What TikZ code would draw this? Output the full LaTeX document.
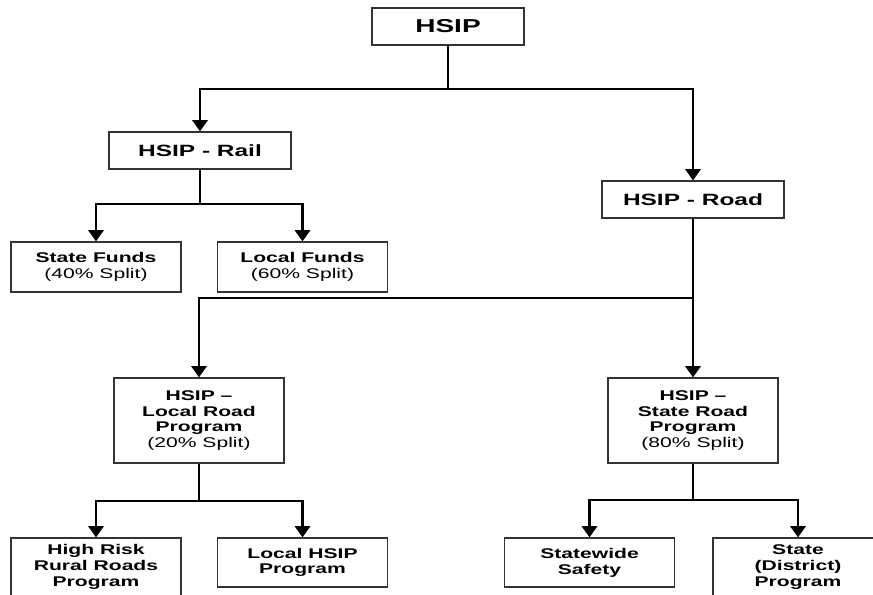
\documentclass[tikz,border=0pt]{standalone}
\usepackage{fontspec}
\setmainfont{Liberation Sans}[FakeStretch=1.5]
\usepackage{tikz}
\usetikzlibrary{arrows.meta}

\begin{document}
\begin{tikzpicture}[
  x=0.025cm, y=-0.025cm,
  box/.style={draw=black!80, line width=0.9pt, minimum width=4.25cm, align=center,
              inner sep=2pt, font=\fontsize{10}{11.2}\selectfont},
  topbox/.style={box, minimum width=3.8cm, minimum height=0.925cm,
              font=\fontsize{13.3}{15}\selectfont\bfseries},
  midbox/.style={box, minimum width=4.55cm, minimum height=0.925cm,
              font=\fontsize{11.6}{13}\selectfont\bfseries},
  prog/.style={box, font=\fontsize{10}{11.2}\selectfont\bfseries},
  arr/.style={-{Triangle[width=3.8mm,length=2.8mm]}, line width=1.8pt},
  link/.style={line width=1.8pt}
]
  \clip (0,0) rectangle (873,594);

  % levels 1 and 2
  \node[topbox] (hsip) at (448,26.5) {HSIP};
  \node[midbox] (rail) at (200,150.5) {HSIP - Rail};
  \node[midbox] (road) at (693,199.5) {HSIP - Road};

  % rail split
  \node[box, minimum height=1.25cm] (sfund) at (96,267) {\textbf{State Funds}\\(40\% Split)};
  \node[box, minimum height=1.25cm] (lfund) at (302.5,267) {\textbf{Local Funds}\\(60\% Split)};

  % road split
  \node[box, minimum height=2.125cm] (lroad) at (199,420.5)
    {\textbf{HSIP --}\\\textbf{Local Road}\\\textbf{Program}\\(20\% Split)};
  \node[box, minimum height=2.125cm] (sroad) at (693,420.5)
    {\textbf{HSIP --}\\\textbf{State Road}\\\textbf{Program}\\(80\% Split)};

  % programs
  \node[prog, minimum height=1.45cm] (hrr) at (96,567) {High Risk\\Rural Roads\\Program};
  \node[prog, minimum height=1.225cm] (lhsip) at (302.5,562.5) {Local HSIP\\Program};
  \node[prog, minimum height=1.225cm] (sws) at (589.5,562.5) {Statewide\\Safety};
  \node[prog, minimum height=1.45cm] (sdist) at (798,567) {State\\(District)\\Program};

  % junctions
  \coordinate (j0) at (448,89);
  \coordinate (j1) at (200,204);
  \coordinate (j2) at (693,298);
  \coordinate (j3) at (199,501);
  \coordinate (j4) at (693,500);

  \draw[link] (hsip) -- (j0);
  \draw[arr] (j0) -| (rail);
  \draw[arr] (j0) -| (road);

  \draw[link] (rail) -- (j1);
  \draw[arr] (j1) -| (sfund);
  \draw[arr] (j1) -| (lfund);

  \draw[arr] (road) -- (sroad);
  \draw[arr] (j2) -| (lroad);

  \draw[link] (lroad) -- (j3);
  \draw[arr] (j3) -| (hrr);
  \draw[arr] (j3) -| (lhsip);

  \draw[link] (sroad) -- (j4);
  \draw[arr] (j4) -| (sws);
  \draw[arr] (j4) -| (sdist);
\end{tikzpicture}
\end{document}
